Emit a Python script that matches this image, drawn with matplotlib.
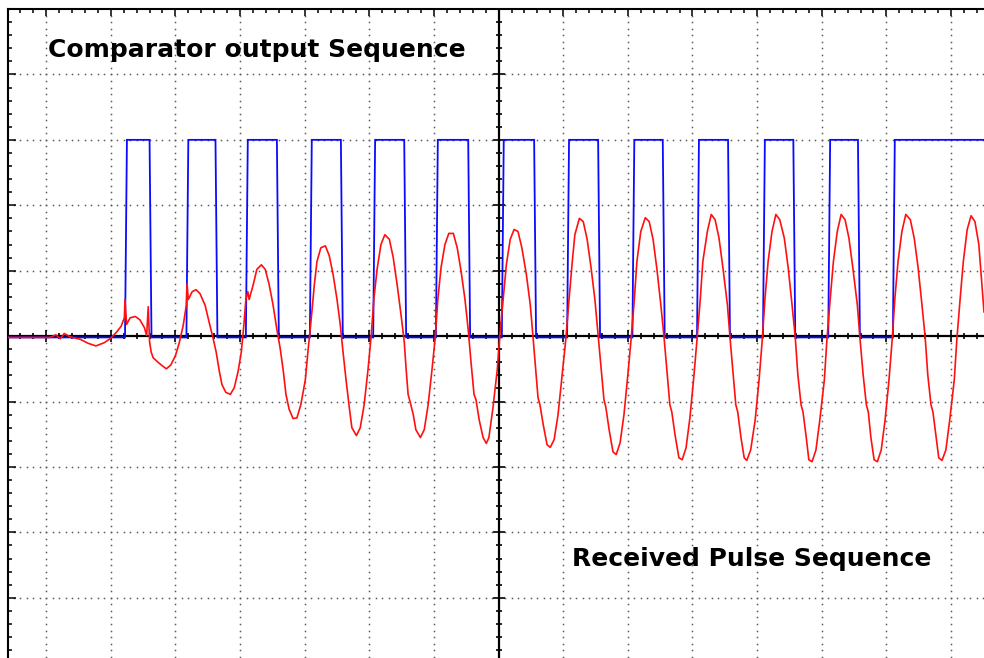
import numpy as np
import matplotlib
matplotlib.use("Agg")
import matplotlib.pyplot as plt
from matplotlib.ticker import MultipleLocator, NullFormatter

# ---------------- data (time and amplitude in screen divisions) ----------------
red_t = [-7.59, -6.94, -6.85, -6.78, -6.72, -6.63, -6.47, -6.35, -6.23, -6.10,
         -6.01, -5.92, -5.84, -5.79, -5.78, -5.755, -5.70, -5.62, -5.55, -5.48,
         -5.445, -5.42, -5.40, -5.376, -5.345, -5.28, -5.22, -5.14, -5.07, -5.00,
         -4.94, -4.88, -4.83, -4.82, -4.80, -4.74, -4.68, -4.62, -4.54, -4.48,
         -4.42, -4.37, -4.32, -4.28, -4.22, -4.15, -4.09, -4.03, -3.98, -3.94,
         -3.91, -3.88, -3.86, -3.80, -3.74, -3.67, -3.61, -3.55, -3.49, -3.43,
         -3.38, -3.33, -3.29, -3.24, -3.18, -3.12, -3.06, -2.99, -2.95, -2.90,
         -2.85, -2.81, -2.75, -2.68, -2.62, -2.56, -2.50, -2.45, -2.41, -2.36,
         -2.31, -2.27, -2.20, -2.14, -2.08, -2.02, -1.97, -1.93, -1.88, -1.82,
         -1.76, -1.69, -1.63, -1.57, -1.51, -1.46, -1.43, -1.40, -1.37, -1.32,
         -1.28, -1.21, -1.15, -1.09, -1.03, -0.98, -0.94, -0.89, -0.83, -0.77,
         -0.70, -0.64, -0.58, -0.52, -0.47, -0.43, -0.38, -0.35, -0.30, -0.24,
         -0.19, -0.15, -0.09, -0.02, 0.02, 0.07, 0.12, 0.18, 0.24, 0.30,
         0.36, 0.43, 0.49, 0.53, 0.58, 0.61, 0.64, 0.69, 0.75, 0.80,
         0.86, 0.92, 0.98, 1.04, 1.09, 1.14, 1.18, 1.25, 1.31, 1.37,
         1.43, 1.49, 1.54, 1.59, 1.63, 1.66, 1.71, 1.77, 1.82, 1.88,
         1.94, 2.00, 2.05, 2.10, 2.14, 2.20, 2.27, 2.33, 2.39, 2.45,
         2.51, 2.56, 2.61, 2.65, 2.68, 2.73, 2.79, 2.84, 2.90, 2.96,
         3.02, 3.07, 3.12, 3.16, 3.23, 3.29, 3.35, 3.41, 3.47, 3.54,
         3.58, 3.63, 3.67, 3.70, 3.75, 3.80, 3.84, 3.90, 3.97, 4.03,
         4.08, 4.12, 4.17, 4.23, 4.29, 4.35, 4.42, 4.48, 4.54, 4.59,
         4.63, 4.68, 4.71, 4.76, 4.80, 4.85, 4.91, 4.97, 5.04, 5.08,
         5.13, 5.18, 5.24, 5.30, 5.36, 5.42, 5.48, 5.55, 5.59, 5.64,
         5.69, 5.72, 5.76, 5.81, 5.86, 5.92, 5.98, 6.04, 6.09, 6.13,
         6.18, 6.24, 6.30, 6.37, 6.43, 6.49, 6.55, 6.60, 6.64, 6.69,
         6.72, 6.77, 6.81, 6.86, 6.92, 6.98, 7.05, 7.09, 7.14, 7.19,
         7.25, 7.31, 7.37, 7.43, 7.51]
red_v = [-0.02, -0.02, 0.02, -0.04, 0.04, -0.01, -0.05, -0.11, -0.15, -0.10,
         -0.04, 0.05, 0.15, 0.28, 0.56, 0.18, 0.28, 0.30, 0.25, 0.13,
         0.01, 0.45, -0.08, -0.24, -0.33, -0.39, -0.44, -0.50, -0.44, -0.30,
         -0.10, 0.16, 0.48, 0.80, 0.56, 0.68, 0.71, 0.65, 0.47, 0.22,
         -0.02, -0.24, -0.54, -0.74, -0.86, -0.89, -0.79, -0.54, -0.24, 0.18,
         0.56, 0.68, 0.56, 0.77, 1.02, 1.09, 1.02, 0.79, 0.48, 0.10,
         -0.18, -0.54, -0.89, -1.12, -1.26, -1.25, -1.05, -0.67, -0.24, 0.25,
         0.79, 1.14, 1.35, 1.38, 1.23, 0.94, 0.56, 0.18, -0.21, -0.67,
         -1.09, -1.40, -1.52, -1.40, -1.05, -0.51, 0.02, 0.56, 1.02, 1.40,
         1.55, 1.48, 1.20, 0.79, 0.33, -0.08, -0.51, -0.89, -1.00, -1.20,
         -1.43, -1.55, -1.43, -1.05, -0.51, -0.02, 0.56, 1.05, 1.40, 1.57,
         1.57, 1.35, 0.99, 0.56, 0.10, -0.36, -0.89, -0.97, -1.28, -1.55,
         -1.64, -1.55, -1.12, -0.51, 0.02, 0.56, 1.09, 1.48, 1.63, 1.60,
         1.35, 0.94, 0.48, 0.02, -0.59, -0.94, -1.05, -1.35, -1.66, -1.70,
         -1.58, -1.20, -0.63, -0.05, 0.56, 1.14, 1.55, 1.80, 1.75, 1.48,
         1.05, 0.56, 0.02, -0.51, -0.97, -1.09, -1.43, -1.77, -1.81, -1.63,
         -1.20, -0.59, -0.05, 0.56, 1.14, 1.60, 1.81, 1.75, 1.48, 1.02,
         0.48, -0.02, -0.59, -1.05, -1.16, -1.51, -1.86, -1.89, -1.71, -1.25,
         -0.63, -0.05, 0.56, 1.14, 1.60, 1.86, 1.78, 1.50, 1.05, 0.48,
         -0.02, -0.59, -1.05, -1.16, -1.55, -1.86, -1.90, -1.74, -1.28, -0.67,
         -0.05, 0.56, 1.14, 1.60, 1.86, 1.78, 1.50, 1.05, 0.48, -0.02,
         -0.59, -1.05, -1.16, -1.55, -1.89, -1.92, -1.74, -1.28, -0.67, -0.05,
         0.56, 1.14, 1.60, 1.86, 1.78, 1.50, 1.05, 0.48, -0.02, -0.59,
         -1.05, -1.16, -1.55, -1.89, -1.92, -1.74, -1.28, -0.67, -0.05, 0.56,
         1.14, 1.60, 1.86, 1.78, 1.50, 1.05, 0.48, -0.02, -0.59, -1.05,
         -1.16, -1.55, -1.86, -1.90, -1.74, -1.28, -0.67, -0.05, 0.56, 1.14,
         1.63, 1.84, 1.75, 1.40, 0.37]

blue_rise = [-5.78, -4.83, -3.91, -2.92, -1.94, -0.97, 0.05, 1.06, 2.07, 3.07, 4.09, 5.10, 6.10]
blue_fall = [-5.40, -4.38, -3.43, -2.44, -1.46, -0.47, 0.55, 1.54, 2.54, 3.55, 4.56, 5.56]
blue_high = 3.0
blue_low = -0.02

label_comparator = "Comparator output Sequence"
label_received = "Received Pulse Sequence"

# ---------------- figure ----------------
W, H = 984, 658
fig = plt.figure(figsize=(W / 100, H / 100), dpi=100)
ax = fig.add_axes([8 / W, 0, (W - 8) / W, (H - 9) / H])
xmin, xmax = -7.59, 7.51
ymin, ymax = -4.92, 5.0
ax.set_xlim(xmin, xmax)
ax.set_ylim(ymin, ymax)

# frame: top and left only
for s in ("bottom", "right"):
    ax.spines[s].set_visible(False)
for s in ("top", "left"):
    ax.spines[s].set_linewidth(1.5)
    ax.spines[s].set_color("black")

ax.xaxis.set_major_locator(MultipleLocator(1))
ax.xaxis.set_minor_locator(MultipleLocator(0.2))
ax.yaxis.set_major_locator(MultipleLocator(1))
ax.yaxis.set_minor_locator(MultipleLocator(0.2))
ax.xaxis.set_major_formatter(NullFormatter())
ax.yaxis.set_major_formatter(NullFormatter())
ax.tick_params(axis="x", which="both", direction="in", top=True, bottom=False,
               labeltop=False, labelbottom=False, width=1.1, color="black")
ax.tick_params(axis="y", which="both", direction="in", left=True, right=False,
               labelleft=False, width=1.1, color="black")
ax.tick_params(axis="x", which="major", length=5.0)
ax.tick_params(axis="x", which="minor", length=2.9)
ax.tick_params(axis="y", which="major", length=5.5)
ax.tick_params(axis="y", which="minor", length=3.0)

# dotted graticule
dot_color = "#5a5a5a"
dx = np.arange(np.ceil(xmin * 10) / 10, xmax, 0.1)
dy = np.arange(np.ceil(ymin * 10) / 10, ymax, 0.1)
for gy in range(-4, 5):
    if gy == 0:
        continue
    ax.plot(dx, np.full_like(dx, gy), ls="none", marker="s", ms=1.1,
            mfc=dot_color, mec="none", zorder=1)
for gx in range(-7, 8):
    if gx == 0:
        continue
    ax.plot(np.full_like(dy, gx), dy, ls="none", marker="s", ms=1.1,
            mfc=dot_color, mec="none", zorder=1)

# centre cross with ticks
ax.axhline(0, color="black", lw=1.6, zorder=2)
ax.axvline(0, color="black", lw=1.6, zorder=2)
tx = np.arange(np.ceil(xmin * 5) / 5, xmax, 0.2)
ty = np.arange(np.ceil(ymin * 5) / 5, ymax, 0.2)
minor_x = tx[np.abs(tx - np.round(tx)) > 1e-6]
major_x = tx[np.abs(tx - np.round(tx)) <= 1e-6]
minor_y = ty[np.abs(ty - np.round(ty)) > 1e-6]
major_y = ty[np.abs(ty - np.round(ty)) <= 1e-6]
ax.plot(minor_x, np.zeros_like(minor_x), ls="none", marker="|", ms=5.0, mew=1.2, color="black", zorder=2)
ax.plot(major_x, np.zeros_like(major_x), ls="none", marker="|", ms=8.5, mew=1.2, color="black", zorder=2)
ax.plot(np.zeros_like(minor_y), minor_y, ls="none", marker="_", ms=5.0, mew=1.2, color="black", zorder=2)
ax.plot(np.zeros_like(major_y), major_y, ls="none", marker="_", ms=8.5, mew=1.2, color="black", zorder=2)

# blue comparator trace built from edge times
bt = [xmin]
bv = [blue_low]
for i, r in enumerate(blue_rise):
    bt += [r, r + 0.03]
    bv += [blue_low, blue_high]
    if i < len(blue_fall):
        f = blue_fall[i]
        bt += [f, f + 0.03]
        bv += [blue_high, blue_low]
bt.append(xmax)
bv.append(blue_high)
ax.plot(bt, bv, color="#0a0aff", lw=1.3, zorder=3, solid_joinstyle="miter")

# red received trace
ax.plot(red_t, red_v, color="#ff1010", lw=1.2, zorder=4)

# labels
ax.text(-6.97, 4.27, label_comparator, fontsize=18, fontweight="bold",
        family="DejaVu Sans", color="black", ha="left", va="baseline", zorder=5)
ax.text(1.14, -3.52, label_received, fontsize=18, fontweight="bold",
        family="DejaVu Sans", color="black", ha="left", va="baseline", zorder=5)

fig.savefig("out.png", dpi=100, facecolor="white")
